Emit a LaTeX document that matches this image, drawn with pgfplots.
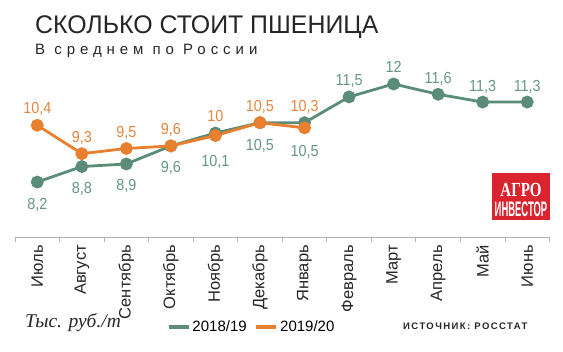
\documentclass[border=0pt]{standalone}
\usepackage{pgfplots}
\pgfplotsset{compat=1.18}
\usepackage{graphicx}
\usepackage{fontspec}
\setmainfont{Liberation Sans}
\newfontfamily\serifit{Liberation Serif}
\newfontfamily\spaced[LetterSpace=33]{Liberation Sans}
\newfontfamily\srcfont[LetterSpace=15]{Liberation Sans}
\definecolor{cgreen}{HTML}{5B8C78}
\definecolor{corange}{HTML}{E8802F}
\definecolor{lgreen}{HTML}{669685}
\definecolor{lorange}{HTML}{E6843D}
\definecolor{logored}{HTML}{D9232E}
\begin{document}
\begin{tikzpicture}[x=1pt,y=1pt]
\path[use as bounding box] (0,0) rectangle (563,352);
% title
\node[anchor=base west, inner sep=0pt, text=black!85] at (35,318.7)
  {\scalebox{0.976}[1]{\fontsize{25.5}{25.5}\selectfont СКОЛЬКО СТОИТ ПШЕНИЦА}};
\node[anchor=base west, inner sep=0pt, text=black!85] at (35,297)
  {\fontsize{15}{15}\selectfont\spaced В среднем по России};
\begin{axis}[
  at={(15pt,115pt)}, anchor=south west,
  scale only axis, width=534.5pt, height=178.8pt,
  xmin=-0.5, xmax=11.5, ymin=6.07, ymax=13,
  axis x line*=bottom, axis y line=none,
  x axis line style={gray!60, line width=0.8pt, -},
  xtick={0,...,11},
  xticklabels={Июль,Август,Сентябрь,Октябрь,Ноябрь,Декабрь,Январь,Февраль,Март,Апрель,Май,Июнь},
  major tick length=0pt,
  minor xtick={-0.5,0.5,...,11.5},
  minor x tick style={gray!60, line width=0.8pt},
  minor tick length=5pt, tick align=outside,
  xticklabel shift=8pt,
  xticklabel style={anchor=east, rotate=90, inner sep=0pt, text=black!85,
    font=\fontsize{16.5}{16.5}\selectfont},
  clip=false,
  legend style={at={(axis description cs:0.284,-0.503)}, anchor=west,
    draw=none, fill=none, inner sep=0pt, legend columns=2,
    font=\fontsize{15}{15}\selectfont,
    nodes={inner xsep=2pt, inner ysep=0pt},
    /tikz/every even column/.append style={column sep=6pt}},
  legend cell align=left,
  legend image code/.code={\draw[#1, line width=3.5pt] (0pt,0pt) -- (20pt,0pt);},
  nodes near coords={\scalebox{0.9}[1]{\pgfmathprintnumber\pgfplotspointmeta}},
  point meta=explicit,
  /pgf/number format/use comma,
  /pgf/number format/assume math mode=true,
  visualization depends on={\thisrow{dy} \as \dy},
  every node near coord/.append style={anchor=base, yshift=\dy pt, inner sep=0pt,
    font=\fontsize{16}{16}\selectfont},
]
\addplot[cgreen, line width=2.8pt, mark=*, mark size=5pt,
  every node near coord/.append style={text=lgreen}]
  table[x=x, y=y, meta=y] {
x y dy
0 8.2 -27
1 8.8 -27
2 8.9 -27
3 9.6 -27
4 10.1 -33
5 10.5 -28
6 10.5 -34
7 11.5 11
8 12 11
9 11.6 11
10 11.3 11
11 11.3 11
};
\addlegendentry{2018/19}
\addplot[corange, line width=2.8pt, mark=*, mark size=5pt,
  every node near coord/.append style={text=lorange}]
  table[x=x, y=y, meta=y] {
x y dy
0 10.4 12
1 9.3 11.5
2 9.5 11
3 9.6 11
4 10 14
5 10.5 11.5
6 10.3 16
};
\addlegendentry{2019/20}
\end{axis}
% unit note
\node[anchor=base west, inner sep=0pt, text=black!85] at (25,24)
  {\fontsize{19.5}{19.5}\selectfont\serifit\itshape Тыс. руб./т};
% source
\node[anchor=base west, inner sep=0pt, text=black!85] at (403,22)
  {\fontsize{9.5}{9.5}\selectfont\srcfont\bfseries ИСТОЧНИК: РОССТАТ};
% logo
\fill[logored] (492,132) rectangle (550,179);
\node[anchor=base, inner sep=0pt, text=white] at (521,155)
  {\scalebox{0.75}[1]{\fontsize{20}{20}\selectfont\serifit\bfseries АГРО}};
\node[anchor=base, inner sep=0pt, text=white] at (521,135.5)
  {\scalebox{0.45}[1]{\fontsize{21}{21}\selectfont\bfseries ИНВЕСТОР}};
\end{tikzpicture}
\end{document}
